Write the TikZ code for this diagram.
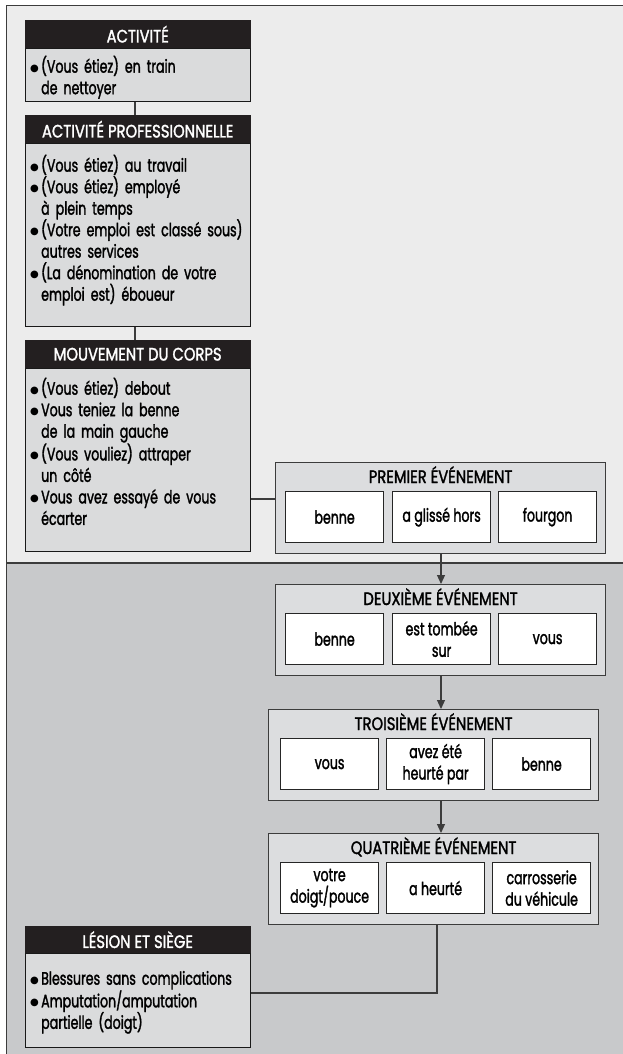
\documentclass[tikz,border=0pt]{standalone}
\usepackage{fontspec}
\usepackage{graphicx}
\setmainfont{Poppins}[FakeStretch=0.7,FakeBold=1.6]
\newfontfamily\capsfont{Poppins}[FakeStretch=0.82,FakeBold=1.6]
\newfontfamily\symfont{DejaVu Sans}
\usetikzlibrary{arrows.meta}
\definecolor{toppanel}{HTML}{ECECEC}
\definecolor{botpanel}{HTML}{C8C9CB}
\definecolor{bodyfill}{HTML}{DADBDC}
\definecolor{evfill}{HTML}{DCDDDF}
\definecolor{hdr}{HTML}{231F20}
\definecolor{edge}{HTML}{3C3C3C}
\newcommand\fs{\fontsize{18}{21.5}\selectfont}
\newcommand\cfs{\capsfont\fontsize{18}{21.5}\selectfont}
\newcommand\topstrut{\rule{0pt}{18pt}}
\newcommand\bul{\raisebox{1.5pt}{\symfont\fontsize{10}{10}\selectfont ●}}
\newcommand\bitem{\par\noindent\makebox[11pt][l]{\bul}}
\newcommand\cont{\par\noindent\hspace*{11pt}}
\begin{document}
\begin{tikzpicture}[x=1pt,y=-1pt,
  frame/.style={draw=edge,line width=1.4pt},
  hdrbox/.style={fill=hdr,draw=hdr,text=white,minimum width=225pt,minimum height=28pt,inner sep=0pt,anchor=north west,font=\cfs},
  bodybox/.style={fill=bodyfill,draw=black!90,line width=1.2pt,minimum width=225pt,inner sep=0pt,anchor=north west},
  bodytext/.style={anchor=north west,text width=280pt,inner sep=0pt,align=left,font=\fs},
  evbox/.style={fill=evfill,draw=edge,line width=1.2pt,minimum width=330pt,minimum height=91pt,inner sep=0pt,anchor=north west},
  evtitle/.style={anchor=base,inner sep=0pt,font=\cfs},
  cell/.style={fill=white,draw=black!85,line width=1.2pt,minimum width=98pt,minimum height=51pt,inner sep=0pt,anchor=north west,align=center,font=\fs},
  link/.style={draw=edge,line width=1.1pt},
  arr/.style={link,-{Triangle[length=9pt,width=8pt]}}]
\useasboundingbox (0,0) rectangle (623,1054);
% panels
\fill[toppanel] (6.5,5.5) rectangle (623,563);
\fill[botpanel] (6.5,563) rectangle (623,1054);
\draw[frame] (623,5.5) -- (6.5,5.5) -- (6.5,1054);
\draw[frame] (6.5,563) -- (623,563);
% left column
\node[hdrbox] (H1) at (25,20) {ACTIVITÉ};
\node[bodybox,minimum height=53pt] (B1) at (25,48) {};
\node[bodytext] (T1) at (30,51) {\bitem\topstrut(Vous étiez) en train\cont de nettoyer};
\node[hdrbox] (H2) at (25,115) {ACTIVITÉ PROFESSIONNELLE};
\node[bodybox,minimum height=183pt] (B2) at (25,143) {};
\node[bodytext] (T2) at (30,150) {\bitem\topstrut(Vous étiez) au travail
\bitem(Vous étiez) employé\cont à plein temps
\bitem(Votre emploi est classé sous)\cont autres services
\bitem(La dénomination de votre\cont emploi est) éboueur};
\node[hdrbox] (H3) at (25,340) {MOUVEMENT DU CORPS};
\node[bodybox,minimum height=183pt] (B3) at (25,368) {};
\node[bodytext] (T3) at (30,373) {\bitem\topstrut(Vous étiez) debout
\bitem Vous teniez la benne\cont de la main gauche
\bitem(Vous vouliez) attraper\cont un côté
\bitem Vous avez essayé de vous\cont écarter};
\node[hdrbox,minimum height=27pt] (H4) at (25,926) {LÉSION ET SIÈGE};
\node[bodybox,minimum height=94pt] (B4) at (25,953) {};
\node[bodytext] (T4) at (30,963) {\bitem\topstrut Blessures sans complications
\bitem Amputation/amputation\cont partielle (doigt)};
\coordinate (lx) at (135,0);
\draw[link] (B1.south -| lx) -- (H2.north -| lx);
\draw[link] (B2.south -| lx) -- (H3.north -| lx);
% events
\node[evbox] (E1) at (275,462) {};
\node[evtitle] (E1t) at ([yshift=-21pt]E1.north) {PREMIER ÉVÉNEMENT};
\node[cell] (E1a) at (285,491) {benne};
\node[cell] (E1b) at (392,491) {a glissé hors};
\node[cell] (E1c) at (498,491) {fourgon};
\node[evbox] (E2) at (275,584) {};
\node[evtitle] (E2t) at ([yshift=-21pt]E2.north) {DEUXIÈME ÉVÉNEMENT};
\node[cell] (E2a) at (285,613) {benne};
\node[cell] (E2b) at (392,613) {est tombée\\sur};
\node[cell] (E2c) at (498,613) {vous};
\node[evbox] (E3) at (268,709) {};
\node[evtitle] (E3t) at ([yshift=-21pt]E3.north) {TROISIÈME ÉVÉNEMENT};
\node[cell] (E3a) at (280,738) {vous};
\node[cell] (E3b) at (386,738) {avez été\\heurté par};
\node[cell] (E3c) at (492,738) {benne};
\node[evbox] (E4) at (268,833) {};
\node[evtitle] (E4t) at ([yshift=-21pt]E4.north) {QUATRIÈME ÉVÉNEMENT};
\node[cell] (E4a) at (280,862) {votre\\doigt/pouce};
\node[cell] (E4b) at (386,862) {a heurté};
\node[cell] (E4c) at (492,862) {carrosserie\\du véhicule};
% connectors
\coordinate (ax) at (441,0);
\draw[arr] (E1.south -| ax) -- (E2.north -| ax);
\draw[arr] (E2.south -| ax) -- (E3.north -| ax);
\draw[arr] (E3.south -| ax) -- (E4.north -| ax);
\coordinate (m) at (0,499);
\draw[link] (B3.east |- m) -- (E1.west |- m);
\coordinate (k) at (437,993);
\draw[link] (E4.south -| k) -- (k) -- (B4.east |- k);
\end{tikzpicture}
\end{document}
